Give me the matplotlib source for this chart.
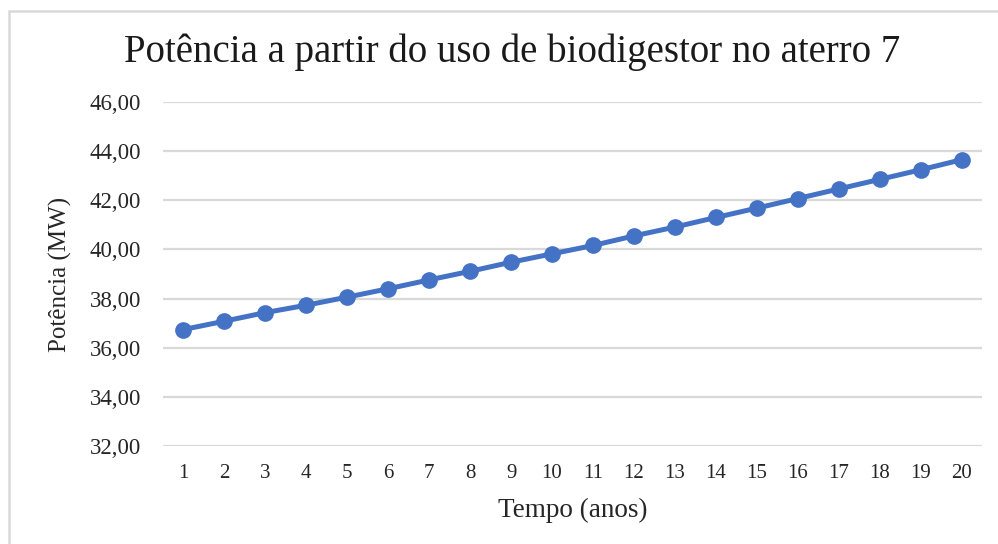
import matplotlib
matplotlib.use("Agg")
import matplotlib.pyplot as plt
from matplotlib.patches import Rectangle
from matplotlib.ticker import FuncFormatter

# Power generated from biodigester use at landfill 7, per year
anos = list(range(1, 21))
potencia_mw = [36.74, 37.08, 37.43, 37.73, 38.06, 38.40, 38.76, 39.11, 39.48, 39.82,
               40.16, 40.55, 40.91, 41.30, 41.68, 42.07, 42.46, 42.85, 43.24, 43.65]
y_ticks = [32, 34, 36, 38, 40, 42, 44, 46]

titulo = "Potência a partir do uso de biodigestor no aterro 7"
rotulo_x = "Tempo (anos)"
rotulo_y = "Potência (MW)"

plt.rcParams["font.family"] = ["Liberation Serif", "DejaVu Serif"]

W, H = 998, 544
fig = plt.figure(figsize=(W / 100, H / 100), dpi=100)
fig.patch.set_facecolor("white")

# outer chart frame
fig.add_artist(Rectangle((9 / W, -0.05), 1.2, (H - 11) / H + 0.05,
                         transform=fig.transFigure, fill=False,
                         edgecolor="#d9d9d9", linewidth=1.8))

ax = fig.add_axes([163 / W, 98 / H, (982 - 163) / W, (446 - 102) / H])

cats = list(range(len(anos)))
ax.plot(cats, potencia_mw, color="#4472C4", linewidth=3.6, marker="o",
        markersize=11, solid_capstyle="round", zorder=3)

ax.set_xlim(-0.5, len(anos) - 0.5)
ax.set_ylim(y_ticks[0], y_ticks[-1])
ax.set_yticks(y_ticks)
ax.yaxis.set_major_formatter(FuncFormatter(lambda v, p: f"{v:.2f}".replace(".", ",")))
ax.set_xticks(cats)
ax.set_xticklabels([str(a) for a in anos])

ax.grid(axis="y", color="#d9d9d9", linewidth=1.6)
ax.set_axisbelow(True)
for s in ax.spines.values():
    s.set_visible(False)
ax.tick_params(axis="both", length=0, colors="#262626")
ax.tick_params(axis="y", pad=16, labelsize=16.5)
ax.tick_params(axis="x", pad=13, labelsize=15)

ax.set_xlabel(rotulo_x, fontsize=19.5, color="#262626", labelpad=11)
ax.set_ylabel(rotulo_y, fontsize=18, color="#262626")
ax.yaxis.set_label_coords(-0.111, 0.5)
fig.text(512 / W, 1 - 52 / H, titulo, fontsize=28, color="#1a1a1a",
         ha="center", va="center")

fig.savefig("out.png", dpi=100, facecolor="white")
